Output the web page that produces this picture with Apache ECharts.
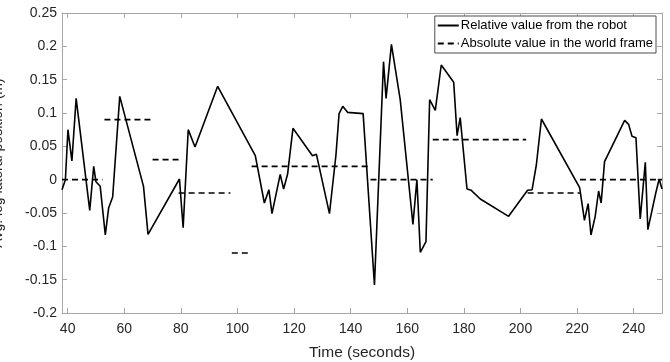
<!DOCTYPE html>
<html>
<head>
<meta charset="utf-8">
<script src="https://cdn.jsdelivr.net/npm/echarts@6/dist/echarts.min.js"></script>
<style>
html,body{margin:0;padding:0;background:#fff;}
#c{width:670px;height:362px;}
</style>
</head>
<body>
<div id="c"></div>
<script>
// Relative value from the robot (solid line)
const relTime = [38,39.2,40.1,41.5,43,47.8,49.2,50,51.5,53.3,54.5,55.9,58.4,66.8,68.4,79.5,80.8,82.6,85,93,
  106.3,109.5,111.1,112.2,115.1,116.3,117.7,119.6,126.5,127.9,132.5,134.8,135.9,137.2,138.9,144.4,148.4,151.6,152.5,154.4,
  157.5,162,163.4,164.6,166.6,167.9,169.9,172,176.4,177.6,178.7,181.1,182.6,185.8,195.8,202.5,204.1,205.6,207.4,220.9,
  222.6,223.9,224.9,226.4,227.6,228.5,229.7,236.8,238.2,239.4,240.8,242.3,244.1,245,247.8,249,250];
const relValue = [-0.015,0.0,0.075,0.028,0.122,-0.046,0.02,-0.003,-0.01,-0.083,-0.042,-0.026,0.125,-0.01,-0.082,0.001,-0.072,0.075,0.049,0.14,
  0.036,-0.035,-0.015,-0.051,0.008,-0.014,0.008,0.077,0.036,0.038,-0.051,0.037,0.099,0.11,0.101,0.099,-0.158,0.177,0.122,0.203,
  0.12,-0.067,0.0,-0.109,-0.093,0.12,0.104,0.172,0.146,0.066,0.093,-0.014,-0.016,-0.029,-0.055,-0.016,-0.015,0.022,0.091,-0.012,
  -0.061,-0.036,-0.083,-0.055,-0.017,-0.035,0.027,0.089,0.083,0.065,0.063,-0.059,0.026,-0.075,-0.02,0.001,-0.014];

// Absolute value in the world frame (dashed segments)
const absStart = [38,53,70,79.2,98,105,147,169,202.5,221];
const absEnd   = [52.3,70,79.2,97.5,104.5,147,169,202,221,250];
const absValue = [0,0.09,0.03,-0.02,-0.11,0.02,0,0.06,-0.02,0];

// Axis ticks
const xTicks = [40,60,80,100,120,140,160,180,200,220,240];
const yMin = -0.2, yMax = 0.25, yStep = 0.05;

const relData = relTime.map((t,i)=>[t, relValue[i]]);
const absData = [];
absStart.forEach((s,i)=>{
  absData.push([s, absValue[i]]);
  absData.push([absEnd[i], absValue[i]]);
  if (i < absStart.length-1) absData.push([absEnd[i], '-']);
});

const font = '"Liberation Sans", Arial, sans-serif';
const boxColor = '#a6a6a6';
const txt = '#262626';

const chart = echarts.init(document.getElementById('c'), null, {renderer:'canvas'});
chart.setOption({
  animation:false,
  backgroundColor:'#fff',
  grid:{left:62, right:8, top:13, bottom:49, containLabel:false, outerBoundsMode:'none'},
  legend:{
    orient:'vertical', right:14, top:16,
    backgroundColor:'#fff', borderColor:'#4d4d4d', borderWidth:1,
    padding:[3,3,3,2], itemGap:5, itemWidth:21, itemHeight:12,
    itemStyle:{opacity:0},
    textStyle:{fontFamily:font, fontSize:13, color:'#000', padding:[0,0,0,-3]},
    data:['Relative value from the robot','Absolute value in the world frame']
  },
  xAxis:[{
    type:'value', min:38, max:250,
    name:'Time (seconds)', nameLocation:'middle', nameGap:32,
    nameTextStyle:{fontFamily:font, fontSize:15.5, color:txt},
    axisLine:{show:true, onZero:false, lineStyle:{color:boxColor, width:1}},
    axisTick:{show:true, inside:true, length:5, customValues:xTicks, lineStyle:{color:boxColor}},
    axisLabel:{fontFamily:font, fontSize:14, color:txt, margin:9, customValues:xTicks},
    splitLine:{show:false}
  },{
    type:'value', min:38, max:250, position:'top',
    axisLine:{show:true, onZero:false, lineStyle:{color:boxColor, width:1}},
    axisTick:{show:true, inside:true, length:5, customValues:xTicks, lineStyle:{color:boxColor}},
    axisLabel:{show:false},
    splitLine:{show:false}
  }],
  yAxis:[{
    type:'value', min:yMin, max:yMax, interval:yStep,
    name:'Avg. leg lateral position (m)', nameLocation:'middle', nameGap:57,
    nameTextStyle:{fontFamily:font, fontSize:14, color:txt},
    axisLine:{show:true, onZero:false, lineStyle:{color:boxColor, width:1}},
    axisTick:{show:true, inside:true, length:5, lineStyle:{color:boxColor}},
    axisLabel:{fontFamily:font, fontSize:14, color:txt, margin:5,
      formatter:v=>{const r=Math.round(v*100)/100; return String(r);} },
    splitLine:{show:false}
  },{
    type:'value', min:yMin, max:yMax, interval:yStep, position:'right',
    axisLine:{show:true, onZero:false, lineStyle:{color:boxColor, width:1}},
    axisTick:{show:true, inside:true, length:5, lineStyle:{color:boxColor}},
    axisLabel:{show:false},
    splitLine:{show:false}
  }],
  series:[{
    name:'Relative value from the robot', type:'line', data:relData,
    symbol:'none', lineStyle:{color:'#000', width:1.6}, itemStyle:{color:'#000'}
  },{
    name:'Absolute value in the world frame', type:'line', data:absData,
    symbol:'none', connectNulls:false,
    lineStyle:{color:'#000', width:1.6, type:[6,4]}, itemStyle:{color:'#000'}
  }]
});
</script>
</body>
</html>
